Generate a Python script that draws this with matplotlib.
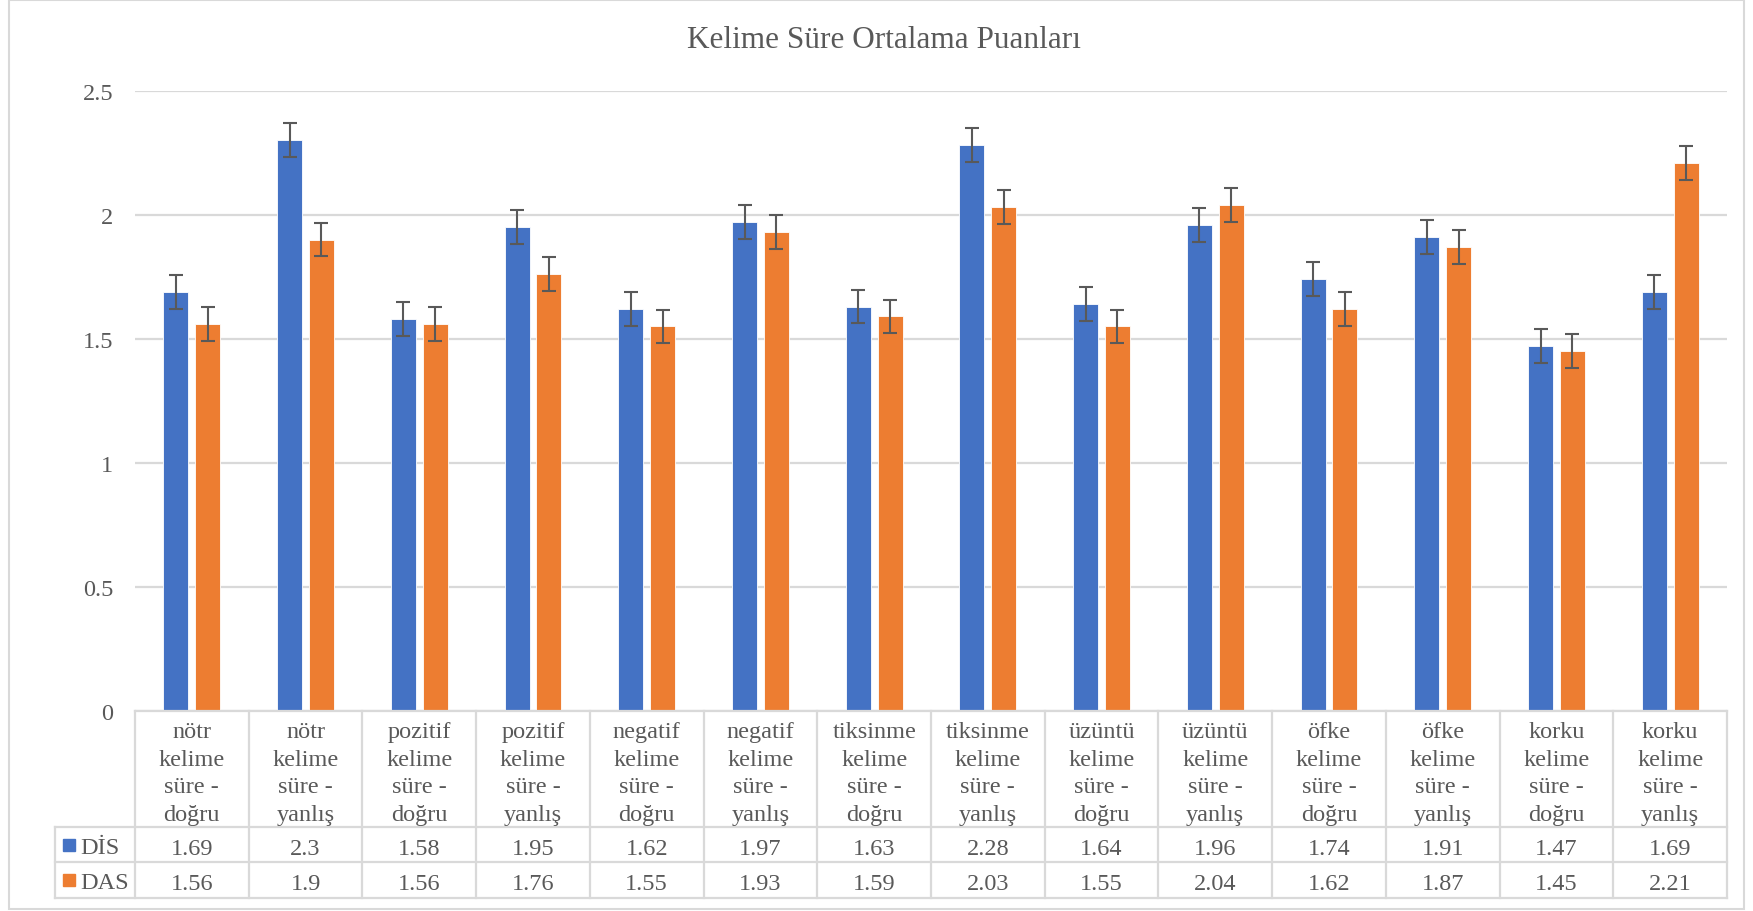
import matplotlib
matplotlib.use("Agg")
import matplotlib.pyplot as plt
from matplotlib.lines import Line2D
from matplotlib.patches import Rectangle
import matplotlib.transforms as mtransforms

categories = [
    "nötr\nkelime\nsüre -\ndoğru", "nötr\nkelime\nsüre -\nyanlış",
    "pozitif\nkelime\nsüre -\ndoğru", "pozitif\nkelime\nsüre -\nyanlış",
    "negatif\nkelime\nsüre -\ndoğru", "negatif\nkelime\nsüre -\nyanlış",
    "tiksinme\nkelime\nsüre -\ndoğru", "tiksinme\nkelime\nsüre -\nyanlış",
    "üzüntü\nkelime\nsüre -\ndoğru", "üzüntü\nkelime\nsüre -\nyanlış",
    "öfke\nkelime\nsüre -\ndoğru", "öfke\nkelime\nsüre -\nyanlış",
    "korku\nkelime\nsüre -\ndoğru", "korku\nkelime\nsüre -\nyanlış",
]
series_names = ["DİS", "DAS"]
dis_values = [1.69, 2.3, 1.58, 1.95, 1.62, 1.97, 1.63, 2.28, 1.64, 1.96, 1.74, 1.91, 1.47, 1.69]
das_values = [1.56, 1.9, 1.56, 1.76, 1.55, 1.93, 1.59, 2.03, 1.55, 2.04, 1.62, 1.87, 1.45, 2.21]
error_value = 0.068
yticks = [0, 0.5, 1, 1.5, 2, 2.5]
ytick_labels = ["0", "0.5", "1", "1.5", "2", "2.5"]
title = "Kelime Süre Ortalama Puanları"

plt.rcParams['font.family'] = ['Liberation Serif', 'DejaVu Serif']

W, H = 1753, 912
fig = plt.figure(figsize=(W / 100, H / 100), dpi=100)

TXT = "#595959"
GRID = "#d9d9d9"
BLUE = "#4472C4"
ORANGE = "#ED7D31"

def fy(y):
    return 1 - y / H

def fx(x):
    return x / W

left, right, y0, y25 = 135, 1727, 712, 91.7
ax = fig.add_axes([fx(left), fy(y0), fx(right) - fx(left), fy(y25) - fy(y0)])
ax.set_xlim(-0.5, len(categories) - 0.5)
ax.set_ylim(0, 2.5)
for s in ax.spines.values():
    s.set_visible(False)
ax.set_xticks([])
ax.set_yticks(yticks)
ax.set_yticklabels(ytick_labels, fontsize=17.5, color=TXT)
ax.tick_params(axis='y', length=0, pad=15.5)
ax.yaxis.grid(True, color=GRID, linewidth=1.6)
ax.set_axisbelow(True)

x = list(range(len(categories)))
bw = 0.22
off = 0.14
errkw = dict(ecolor="#595959", elinewidth=1.5, capsize=4.8, capthick=1.5)
ax.bar([i - off for i in x], dis_values, width=bw, color=BLUE, yerr=error_value,
       error_kw=errkw, zorder=3, edgecolor="white", linewidth=0.6)
ax.bar([i + off for i in x], das_values, width=bw, color=ORANGE, yerr=error_value,
       error_kw=errkw, zorder=3, edgecolor="white", linewidth=0.6)

fig.text(0.5045, fy(41), title, ha="center", va="center", fontsize=22.5, color=TXT)

# data table
bt = mtransforms.blended_transform_factory(ax.transData, fig.transFigure)
lw = 1.6
def hline(xa_px, y):
    fig.add_artist(Line2D([fx(xa_px), fx(right)], [fy(y), fy(y)], color=GRID, lw=lw, transform=fig.transFigure))
hline(left, 712)
hline(55, 828)
hline(55, 863)
hline(55, 899)
for k in range(len(categories) + 1):
    fig.add_artist(Line2D([k - 0.5, k - 0.5], [fy(712), fy(899)], color=GRID, lw=lw, transform=bt))
fig.add_artist(Line2D([fx(55), fx(55)], [fy(828), fy(899)], color=GRID, lw=lw, transform=fig.transFigure))

for i, c in enumerate(categories):
    fig.text(i, fy(774), c, transform=bt, ha="center", va="center", fontsize=17.5,
             color=TXT, linespacing=1.4)
    fig.text(i, fy(850), f"{dis_values[i]:g}", transform=bt, ha="center", va="center", fontsize=17.5, color=TXT)
    fig.text(i, fy(885), f"{das_values[i]:g}", transform=bt, ha="center", va="center", fontsize=17.5, color=TXT)

for name, col, yc in [(series_names[0], BLUE, 846), (series_names[1], ORANGE, 881)]:
    fig.add_artist(Rectangle((fx(63), fy(yc + 6)), fx(12), 12 / H, color=col, transform=fig.transFigure))
    fig.text(fx(80), fy(yc + 3), name, ha="left", va="center", fontsize=17.5, color=TXT)

# outer chart border
fig.add_artist(Rectangle((fx(9), fy(910)), fx(1735), 909 / H, fill=False, edgecolor=GRID,
                         lw=1.5, transform=fig.transFigure))

fig.savefig("out.png", dpi=100)
